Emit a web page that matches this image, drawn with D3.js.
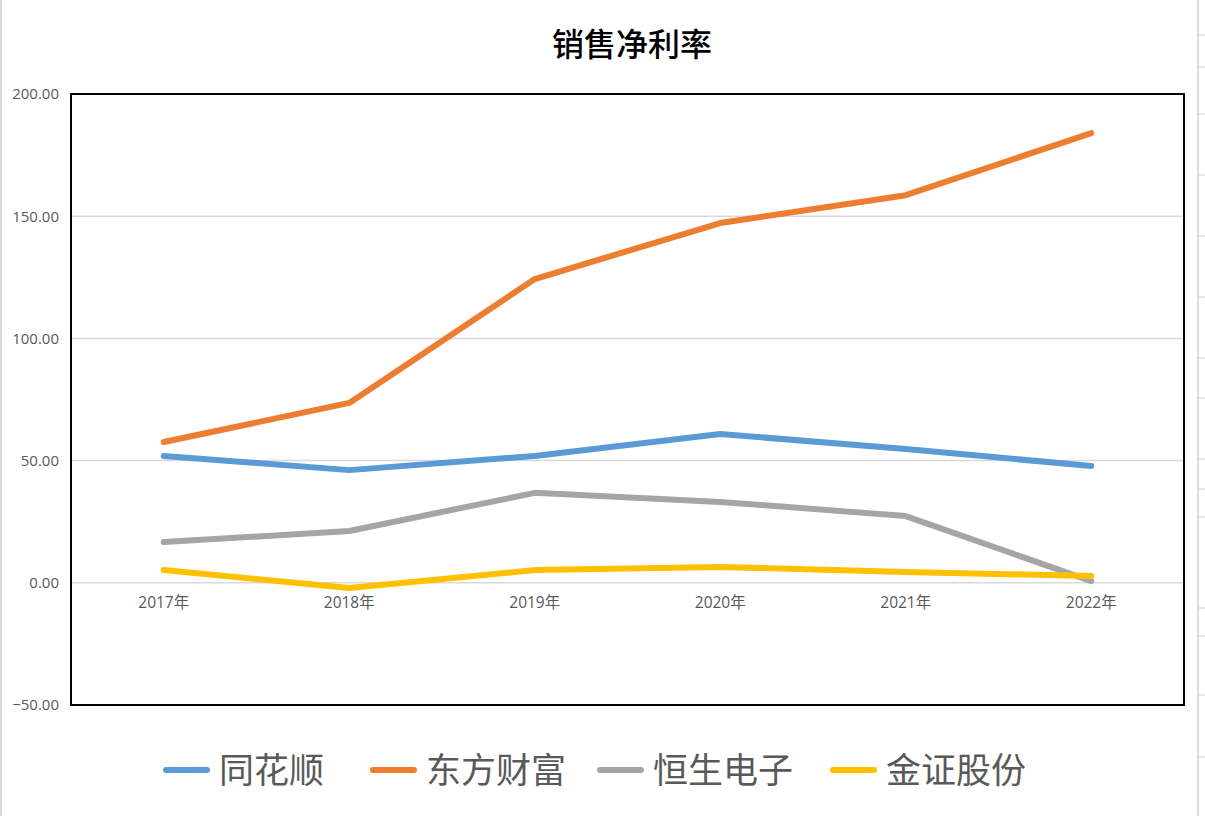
<!DOCTYPE html>
<html><head><meta charset="utf-8">
<script src="https://cdn.jsdelivr.net/npm/d3@7"></script>
<style>body{margin:0;background:#fff;overflow:hidden}svg{display:block}</style>
</head><body>
<svg id="c" width="1205" height="816"></svg>
<script>
const years = ["2017年","2018年","2019年","2020年","2021年","2022年"];
const seriesNames = ["同花顺","东方财富","恒生电子","金证股份"];
const tonghuashun = [51.9, 46.1, 51.9, 60.9, 54.7, 47.8];
const dongfang = [57.6, 73.6, 124.3, 147.2, 158.6, 184.0];
const hengsheng = [16.7, 21.2, 36.8, 33.1, 27.3, 0.7];
const jinzheng = [5.2, -2.1, 5.2, 6.5, 4.4, 2.8];
const yTicks = [-50, 0, 50, 100, 150, 200];
const colors = ["#5b9bd5","#ed7d31","#a5a5a5","#ffc000"];
const allSeries = [tonghuashun, dongfang, hengsheng, jinzheng];

const svg = d3.select("#c");
const L = 71, R = 1184, T = 94, B = 705;
const x = d3.scaleBand().domain(years).range([L, R]);
const y = d3.scaleLinear().domain([-50, 200]).range([B, T]);

// outer sheet artifacts
svg.append("rect").attr("x",0).attr("y",0).attr("width",2).attr("height",816).attr("fill","#d9d9d9");
svg.append("line").attr("x1",1198).attr("x2",1198).attr("y1",0).attr("y2",816).attr("stroke","#d0d0d0").attr("stroke-width",1.5);
[35,67,114,175,236,297,358,398,459,489,517,608,636,695,757].forEach(v=>{
  svg.append("line").attr("x1",1198).attr("x2",1205).attr("y1",v).attr("y2",v).attr("stroke","#c8d0e0").attr("stroke-width",1);
});

// title
svg.append("text").attr("x",632).attr("y",56).attr("text-anchor","middle")
  .attr("font-family","'Noto Sans CJK SC', sans-serif").attr("font-size",32).attr("font-weight",500)
  .attr("fill","#000").text("销售净利率");

// gridlines
svg.append("g").selectAll("line").data(yTicks.filter(d=>d!==-50 && d!==200)).join("line")
  .attr("x1",L).attr("x2",R).attr("y1",d=>y(d)).attr("y2",d=>y(d))
  .attr("stroke","#d9d9d9").attr("stroke-width",1.5);

// y axis labels
const yAxis = d3.axisLeft(y).tickValues(yTicks).tickFormat(d3.format(".2f")).tickSize(0).tickPadding(0);
const ya = svg.append("g").attr("transform",`translate(59,0)`).call(yAxis);
ya.select(".domain").remove();
ya.selectAll("text").attr("font-family","'Open Sans', sans-serif").attr("font-size",15).attr("fill","#595959");

// x labels
const xAxis = d3.axisBottom(x).tickSize(0).tickPadding(0);
const xa = svg.append("g").attr("transform",`translate(0,${y(0)+14})`).call(xAxis);
xa.select(".domain").remove();
xa.selectAll("text").attr("font-family","'Open Sans', 'Noto Sans CJK SC', sans-serif").attr("font-size",15.5).attr("fill","#595959");

// lines
const line = d3.line().x((d,i)=>x(years[i])+x.bandwidth()/2).y(d=>y(d));
allSeries.forEach((s,k)=>{
  svg.append("path").datum(s).attr("d",line).attr("fill","none")
    .attr("stroke",colors[k]).attr("stroke-width",6).attr("stroke-linecap","round").attr("stroke-linejoin","round");
});

// plot border
svg.append("rect").attr("x",L).attr("y",T).attr("width",R-L).attr("height",B-T)
  .attr("fill","none").attr("stroke","#000").attr("stroke-width",2);

// legend
const legX = [166, 373, 600, 833];
const lg = svg.append("g");
seriesNames.forEach((n,k)=>{
  lg.append("line").attr("x1",legX[k]).attr("x2",legX[k]+41).attr("y1",770).attr("y2",770)
    .attr("stroke",colors[k]).attr("stroke-width",6).attr("stroke-linecap","round");
  lg.append("text").attr("x",legX[k]+53).attr("y",783).attr("font-family","'Noto Sans CJK SC', sans-serif")
    .attr("font-size",35).attr("fill","#595959").text(n);
});
</script>
</body></html>
